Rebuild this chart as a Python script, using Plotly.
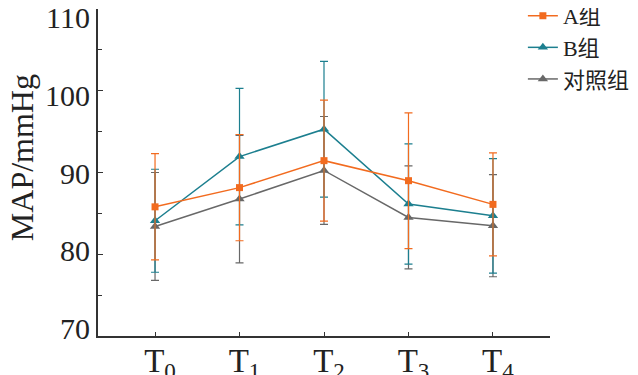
import plotly.graph_objects as go

categories = ["T<sub>0</sub>", "T<sub>1</sub>", "T<sub>2</sub>", "T<sub>3</sub>", "T<sub>4</sub>"]
y_ticks = [70, 80, 90, 100, 110]

a_vals = [85.8, 88.15, 91.45, 89.0, 86.1]
a_err = [6.5, 6.5, 7.4, 8.3, 6.3]
b_vals = [84.1, 91.95, 95.3, 86.15, 84.7]
b_err = [6.3, 8.35, 8.3, 7.35, 7.0]
c_vals = [83.4, 86.75, 90.25, 84.5, 83.5]
c_err = [6.6, 7.8, 6.6, 6.3, 6.25]

names = ["A组", "B组", "对照组"]
colors = ["#F26B1F", "#1C7F8F", "#686868"]
y_title = "MAP/mmHg"

FONT = "Liberation Serif, 'Noto Sans CJK SC', serif"

fig = go.Figure()

series = [
    (names[2], c_vals, c_err, colors[2], "triangle-up", 9),
    (names[1], b_vals, b_err, colors[1], "triangle-up", 9),
    (names[0], a_vals, a_err, colors[0], "square", 7),
]
for name, vals, err, col, sym, ms in series:
    fig.add_trace(go.Scatter(
        x=categories, y=vals, name=name, mode="lines+markers",
        line=dict(color=col, width=1.5),
        marker=dict(symbol=sym, size=ms, color=col),
        error_y=dict(type="data", array=err, visible=True, color=col,
                     thickness=1.2, width=4),
    ))

# empty trace so the label axis is drawn
fig.add_trace(go.Scatter(x=[], y=[], yaxis="y2", showlegend=False, hoverinfo="skip"))

fig.update_layout(
    width=630, height=367,
    margin=dict(l=90, r=88, t=1, b=39, autoexpand=False),
    paper_bgcolor="white", plot_bgcolor="rgba(0,0,0,0)",
    font=dict(family=FONT, color="#222"),
    legend=dict(
        x=0.940, y=1.043, xanchor="left", yanchor="top",
        traceorder="reversed", font=dict(size=22, family=FONT),
        bgcolor="rgba(0,0,0,0)", itemwidth=30, tracegroupgap=0,
    ),
    xaxis=dict(
        range=[-0.675, 4.675], showline=True, linecolor="#333", linewidth=1.5,
        ticks="inside", ticklen=4, tickcolor="#333", showgrid=False,
        zeroline=False, mirror=False, automargin=False, ticklabeloverflow="allow",
        ticklabelshift=5, ticklabelstandoff=-5,
        tickfont=dict(size=33, family=FONT, color="#222"),
    ),
    yaxis=dict(
        range=[70, 110], tickvals=y_ticks, showline=True, linecolor="#333", linewidth=1.5,
        ticks="inside", ticklen=5, tickcolor="#333", showgrid=False,
        zeroline=False, mirror=False, automargin=False, showticklabels=False,
        minor=dict(dtick=5, ticks="inside", ticklen=4, tickcolor="#333", showgrid=False),
    ),
    yaxis2=dict(
        range=[70, 110], tickvals=y_ticks, anchor="x", domain=[0.0229, 0.974],
        showline=False, ticks="", showgrid=False, zeroline=False,
        automargin=False, ticklabeloverflow="allow", ticklabelstandoff=7,
        tickfont=dict(size=30, family=FONT, color="#222"),
    ),
    annotations=[dict(
        text=y_title, xref="paper", yref="paper", x=-0.168, y=0.544,
        textangle=-90, showarrow=False, xanchor="center", yanchor="middle",
        font=dict(size=32, family=FONT, color="#222"),
    )],
)

fig.write_html("out.html")
